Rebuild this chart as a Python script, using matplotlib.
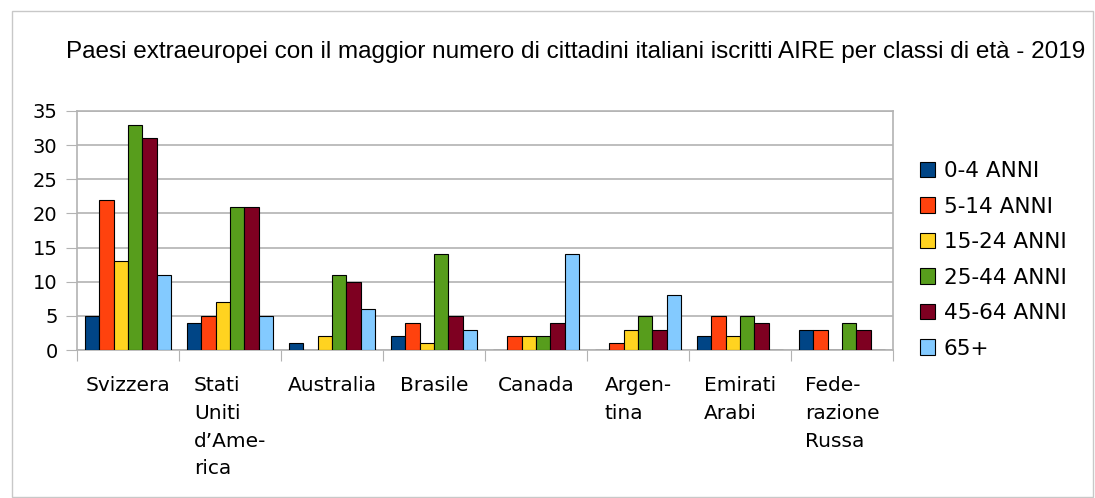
import matplotlib
matplotlib.use("Agg")
import matplotlib.pyplot as plt
import numpy as np
from matplotlib.patches import Rectangle

categories = ["Svizzera", "Stati\nUniti\nd’Ame-\nrica", "Australia", "Brasile", "Canada",
              "Argen-\ntina", "Emirati\nArabi", "Fede-\nrazione\nRussa"]
series_names = ["0-4 ANNI", "5-14 ANNI", "15-24 ANNI", "25-44 ANNI", "45-64 ANNI", "65+"]
v_0_4 = [5, 4, 1, 2, 0, 0, 2, 3]
v_5_14 = [22, 5, 0, 4, 2, 1, 5, 3]
v_15_24 = [13, 7, 2, 1, 2, 3, 2, 0]
v_25_44 = [33, 21, 11, 14, 2, 5, 5, 4]
v_45_64 = [31, 21, 10, 5, 4, 3, 4, 3]
v_65 = [11, 5, 6, 3, 14, 8, 0, 0]
series = [v_0_4, v_5_14, v_15_24, v_25_44, v_45_64, v_65]
colors = ["#004586", "#ff420e", "#ffd320", "#579d1c", "#7e0021", "#83caff"]
title = "Paesi extraeuropei con il maggior numero di cittadini italiani iscritti AIRE per classi di età - 2019"

plt.rcParams['font.family'] = ['DejaVu Sans']
fig = plt.figure(figsize=(10.95, 4.98), dpi=100)
ax = fig.add_axes([77/1095, 1-350/498, (893-77)/1095, (350-111)/498])

n = len(categories)
x = np.arange(n)
bw = 0.142
for i, (vals, c, name) in enumerate(zip(series, colors, series_names)):
    off = (i - 2.5) * bw
    ax.bar(x + off, vals, width=bw, color=c, edgecolor="black", linewidth=0.8,
           label=name, zorder=3)

ax.set_xlim(-0.5, n - 0.5)
ax.set_ylim(0, 35)
ax.set_yticks(range(0, 36, 5))
ax.yaxis.grid(True, color="#b3b3b3", linewidth=1.2, zorder=0)
ax.set_axisbelow(True)
for s in ax.spines.values():
    s.set_color("#b3b3b3")
    s.set_linewidth(1.2)
ax.tick_params(axis="y", length=8, color="#b3b3b3", labelsize=14, pad=6)
ax.set_xticks(np.arange(-0.5, n, 1.0))
ax.set_xticklabels([])
ax.tick_params(axis="x", length=8, color="#b3b3b3")
for xi, lab in zip(x, categories):
    ax.text(xi, -3.85, lab, ha="center", va="top", multialignment="left",
            fontsize=14.5, linespacing=1.58, transform=ax.transData, clip_on=False)

leg = fig.legend(loc="upper left", bbox_to_anchor=(920/1095, 1-161/498), frameon=False,
                 fontsize=15.5, handlelength=0.7, handleheight=0.7, handletextpad=0.4,
                 labelspacing=0.72, borderaxespad=0, borderpad=0)

fig.text(576/1095, 1-52/498, title, ha="center", va="center", fontsize=17.5,
         family=['Liberation Sans', 'DejaVu Sans'])

fig.patches.append(Rectangle((12/1095, 0.002), (1093-12)/1095, 1-11/498 - 0.002,
                             transform=fig.transFigure, fill=False,
                             edgecolor="#c8c8c8", linewidth=1))

fig.savefig("out.png", dpi=100)
